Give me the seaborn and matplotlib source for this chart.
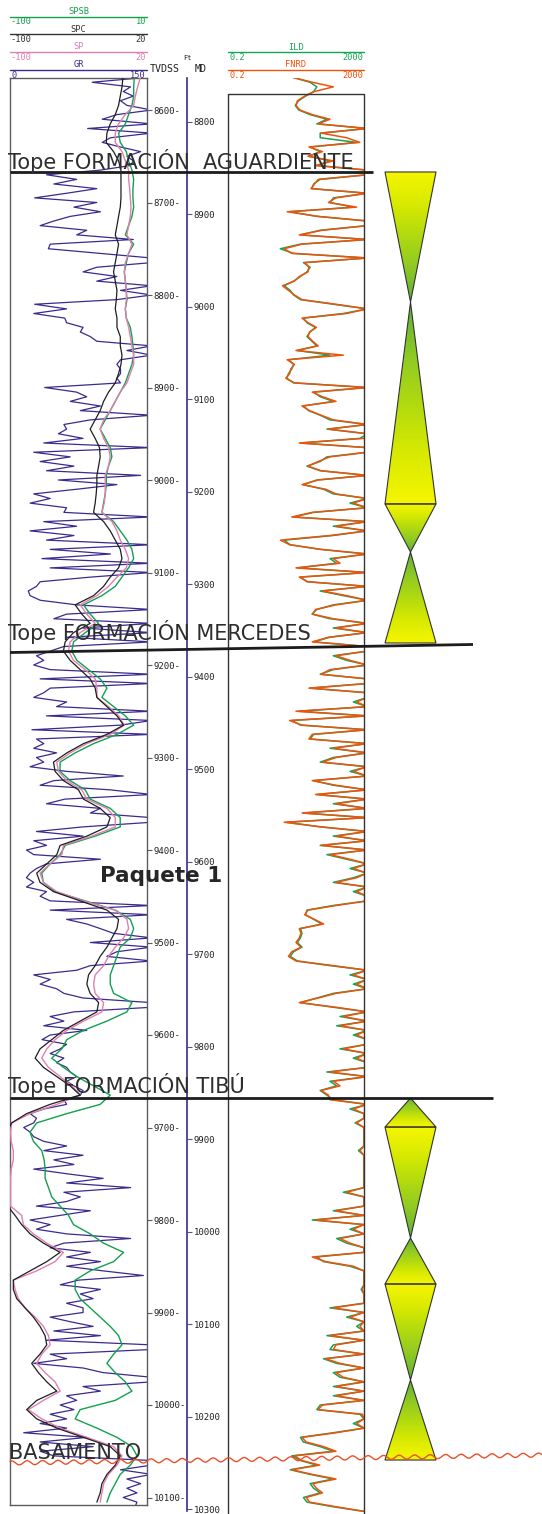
import numpy as np
import matplotlib
matplotlib.use("Agg")
import matplotlib.pyplot as plt
import seaborn as sns
from matplotlib.colors import LinearSegmentedColormap
from matplotlib.patches import Polygon
from matplotlib.transforms import blended_transform_factory

# ---------------------------------------------------------------- log data
LOG_TOP = 8565      # first sample, ft TVDSS
GR_STEP = 5
SP_STEP = 10
RES_STEP = 5

# Gamma ray, API (values above 150 run off the track)
GR = [
    146, 90, 132, 124, 135, 121, 128, 155, 117, 101, 155, 85, 155, 110, 101, 121, 143, 128, 135, 132,
    99, 40, 73, 48, 95, 62, 27, 95, 70, 99, 66, 48, 33, 84, 73, 135, 44, 42, 99, 155,
    155, 95, 80, 117, 95, 155, 121, 155, 117, 27, 62, 26, 60, 62, 80, 77, 88, 95, 155, 128,
    155, 121, 117, 121, 121, 117, 121, 38, 73, 84, 66, 99, 77, 155, 88, 59, 62, 53, 80, 37,
    155, 26, 66, 33, 70, 40, 143, 53, 117, 73, 26, 44, 22, 62, 59, 155, 37, 73, 22, 70,
    40, 155, 44, 110, 35, 155, 44, 155, 88, 33, 29, 20, 22, 33, 73, 155, 62, 48, 155, 80,
    155, 62, 155, 59, 44, 29, 37, 26, 44, 155, 33, 155, 44, 37, 26, 62, 51, 155, 40, 155,
    121, 24, 155, 29, 37, 26, 51, 29, 37, 22, 62, 124, 48, 33, 110, 155, 60, 40, 99, 88,
    155, 155, 80, 29, 80, 26, 40, 18, 26, 99, 40, 29, 22, 18, 26, 18, 40, 33, 44, 155,
    44, 155, 62, 84, 99, 113, 155, 88, 155, 117, 106, 155, 88, 73, 26, 44, 33, 51, 59, 80,
    155, 155, 70, 44, 59, 37, 84, 44, 35, 62, 55, 44, 59, 51, 62, 66, 73, 62, 70, 80,
    77, 59, 62, 37, 22, 29, 26, 15, 22, 26, 37, 62, 37, 80, 48, 70, 26, 62, 102, 62,
    132, 59, 77, 62, 29, 88, 55, 22, 44, 29, 62, 132, 59, 44, 88, 62, 99, 62, 102, 146,
    75, 55, 99, 77, 91, 62, 80, 80, 44, 66, 91, 48, 99, 40, 155, 155, 44, 62, 26, 80,
    102, 155, 155, 80, 99, 62, 73, 55, 70, 44, 62, 33, 62, 15, 84, 33, 91, 33, 48, 155,
    155, 121, 155, 128, 143, 128, 139, 124, 139, 137,
]

# Corrected SP, mV
SPC = [
    -1.1, -1.9, -3.4, -4.9, -7.8, -12.2, -15.1, -15.7, -9.3, -4.9, -2.8, -2.8, -2.8, -2.8,
    -3.4, -4.9, -6.3, -7.8, -4.9, -6.3, -7.8, -9.3, -7.8, -6.3, -6.9, -7.8, -6.3,
    -6.3, -3.4, -3.4, -1.9, -2.8, -4.9, -7.8, -13.7, -18.0, -21.0, -25.4, -29.8, -25.4,
    -21.6, -21.0, -22.4, -23.9, -23.9, -24.5, -25.4, -26.8, -18.0, -12.2, -7.8, -3.4, -1.9,
    -4.9, -12.2, -18.0, -26.8, -42.9, -37.1, -29.8, -44.4, -51.7, -53.2, -47.3, -38.5, -29.8,
    -25.4, -23.9, -15.1, -6.3, -0.5, -15.1, -35.6, -50.2, -61.9, -60.5, -53.2, -40.0, -35.6,
    -21.0, -12.2, -15.1, -32.7, -56.1, -59.0, -67.8, -76.6, -73.7, -61.9, -38.5, -15.1, -4.9,
    -6.3, -10.7, -15.1, -21.0, -25.4, -31.2, -32.7, -29.8, -22.4, -23.9, -38.5, -53.2, -63.4,
    -73.7, -78.0, -70.7, -59.0, -47.3, -38.5, -64.9, -85.4, -98.5, -103, -104, -104, -105,
    -104, -104, -104, -103, -102, -95.6, -89.8, -82.4, -70.7, -56.1, -67.8, -82.4, -97.1,
    -97.1, -94.1, -86.8, -79.5, -73.7, -69.3, -67.8, -73.7, -81.0, -75.1, -67.8, -59.0,
    -76.6, -85.4, -76.6, -59.0, -35.6, -12.2, -3.4, -7.8, -15.1, -19.5, -21.0, -23.9,
]

# Spontaneous potential, mV
SP = [
    14.2, 11.8, 9.8, 8.3, 1.0, -4.9, -7.8, -7.8, -1.9, 1.0, 3.9, 3.9, 4.8, 5.4, 6.0, 5.4,
    3.9, 2.4, 6.8, 3.9, 1.0, 0.1, 1.0, 1.9, 1.9, 1.0, 1.9,
    3.9, 5.4, 6.8, 8.3, 8.3, 5.4, 2.4, -3.4, -7.8, -12.2, -18.0, -21.0, -18.0, -13.7, -12.2,
    -13.7, -16.6, -16.6, -16.6, -17.5, -19.5, -10.7, -6.3, -3.4, 1.0, 3.9,
    1.9, -6.3, -13.7, -23.9, -38.5, -32.7, -25.4, -38.5, -47.3, -48.8, -44.4, -34.1, -25.4,
    -23.9, -23.9, -13.7, -4.9, 0.1, -12.2, -32.7, -47.3, -59.0, -57.6, -50.2, -37.1, -32.7,
    -15.1, -7.8, -7.8, -28.3, -53.2, -54.6, -64.9, -73.7, -70.7, -59.0, -35.6, -7.8, 2.4,
    3.9, -0.5, -7.8, -13.7, -18.0, -25.4, -26.8, -25.4, -18.0, -19.5, -35.6, -50.2, -60.5,
    -67.8, -72.2, -66.3, -56.1, -45.8, -38.5, -59.0, -82.4, -98.5, -99.5, -99.0, -97.1, -97.1,
    -99.0, -99.5, -99.5, -99.5, -99.5, -89.8, -88.3, -79.5, -67.8, -53.2, -60.5, -76.6, -97.1,
    -95.6, -92.7, -86.8, -78.0, -70.7, -66.3, -64.9, -72.2, -76.6, -69.3, -60.5, -56.1,
    -70.7, -83.9, -72.2, -56.1, -32.7, -9.3, -1.9, -6.3, -13.7, -18.0, -19.5, -21.0,
]

# Shale-baseline SP, mV
SPSB = [
    -0.2, -0.7, -0.7, -2.1, -4.8, -7.4, -12.8, -11.5, -6.6, -4.8, -2.1, -0.7, -1.3, -1.3,
    -0.7, -2.1, -4.8, -7.4, -0.7, -4.8, -6.6, -8.2, -7.4, -6.6, -6.1, -7.4, -6.6,
    -3.4, -2.1, -1.3, -0.7, -2.1, -4.8, -7.4, -11.5, -15.5, -19.5, -23.5, -27.6, -23.5, -19.5,
    -18.2, -20.9, -22.7, -22.7, -23.5, -24.9, -26.2, -16.8, -11.5, -6.1, -2.1, -0.7,
    -4.8, -10.1, -15.5, -26.2, -41.0, -35.6, -28.9, -39.6, -49.0, -50.4, -46.3, -37.0, -27.6,
    -22.2, -26.2, -16.8, -7.4, -0.7, -14.1, -32.9, -47.7, -59.8, -59.8, -51.7, -39.6, -35.6,
    -19.5, -11.5, -11.5, -31.6, -55.7, -59.8, -67.8, -74.5, -73.2, -63.8, -39.6, -15.5, -3.4,
    -0.7, -3.4, -11.5, -14.1, -16.8, -19.5, -19.5, -16.8, -2.1, -6.1, -22.2, -41.0, -54.4,
    -58.4, -66.5, -57.1, -46.3, -32.9, -19.5, -27.6, -54.4, -78.5, -83.9, -81.2, -74.5, -72.6,
    -71.8, -71.8, -69.1, -66.5, -59.8, -53.0, -49.0, -35.6, -24.9, -8.8, -16.8, -35.6, -47.7,
    -47.7, -43.7, -35.6, -27.6, -19.5, -12.8, -10.1, -16.8, -22.2, -15.5, -7.4, -2.1,
    -15.5, -43.7, -47.7, -30.2, -14.1, -2.1, 2.0, -3.4, -11.5, -15.5, -19.5, -22.2,
]

# Deep induction resistivity, ohm.m
ILD = [
    17, 52, 82, 66, 38, 24, 19, 24, 52, 162, 82, 2500, 103, 103, 1215, 52, 103, 47, 200, 82,
    2500, 2500, 103, 66, 59, 2500, 250, 200, 970, 13.5, 82, 2500, 2500, 103, 27, 2500, 27, 6.9, 17, 2500,
    33, 52, 42, 27, 17, 9, 13.5, 17, 27, 250, 2500, 493, 33, 42, 74, 52, 42, 59, 82, 22,
    200, 12, 17, 15, 12, 10.7, 17, 2500, 66, 103, 250, 33, 47, 103, 200, 2500, 162, 2500, 1520, 27,
    2500, 2500, 162, 103, 42, 103, 2500, 82, 33, 129, 250, 2500, 774, 2500, 66, 17, 2500, 250, 2500, 250,
    9, 13.5, 103, 2500, 200, 314, 22, 2500, 27, 42, 2500, 103, 493, 2500, 250, 82, 59, 200, 2500, 250,
    2500, 200, 66, 2500, 2500, 250, 618, 2500, 250, 103, 2500, 2500, 52, 2500, 2500, 970, 2500, 24, 2500, 15,
    27, 2500, 66, 52, 2500, 200, 2500, 250, 103, 2500, 774, 2500, 66, 250, 2500, 82, 2500, 250, 2500, 33,
    2500, 10.7, 103, 2500, 250, 2500, 103, 2500, 162, 618, 2500, 774, 2500, 970, 250, 2500, 970, 2500, 2500, 250,
    42, 38, 66, 115, 27, 30, 27, 22, 30, 17, 13.5, 22, 200, 2500, 774, 2500, 970, 2500, 250, 82,
    27, 250, 2500, 394, 2500, 314, 2500, 970, 2500, 2500, 394, 2500, 970, 2500, 2500, 162, 2500, 200, 314, 103,
    162, 250, 2500, 774, 2000, 2000, 1100, 2000, 2000, 2000, 2000, 2000, 1370, 2000, 2000, 2000, 2000, 2000, 2000, 2000,
    2000, 493, 2000, 2000, 2000, 250, 2000, 60, 2000, 774, 2000, 314, 618, 2000, 2000, 82, 129, 774, 2000, 2000,
    2000, 2000, 1650, 2000, 2000, 2000, 200, 2000, 618, 2000, 1215, 2000, 162, 2000, 250, 200, 2000, 129, 314, 2000,
    250, 394, 2000, 250, 2000, 250, 2000, 103, 82, 1520, 2000, 970, 2000, 250, 27, 33, 103, 250, 15, 27,
    82, 13.5, 52, 250, 52, 66, 103, 33, 42, 250, 2000,
]

# Resistivity, FNRD curve, ohm.m
FNRD = [
    17, 60, 250, 70, 36, 22, 20, 26, 60, 200, 90, 2500, 110, 618, 1500, 48, 120, 45, 250, 75,
    2500, 2500, 90, 70, 55, 2500, 300, 180, 1215, 11, 90, 2500, 2500, 120, 25, 2500, 30, 9, 15, 2500,
    36, 48, 45, 25, 18, 8, 12, 18, 30, 300, 2500, 618, 30, 45, 80, 50, 45, 62, 90, 20,
    493, 11, 18, 14, 13, 10, 18, 2500, 60, 120, 300, 30, 50, 110, 250, 2500, 180, 2500, 2000, 25,
    2500, 2500, 200, 90, 45, 110, 2500, 90, 30, 150, 300, 2500, 970, 2500, 60, 15, 2500, 300, 2500, 200,
    7, 13, 110, 2500, 250, 394, 20, 2500, 25, 45, 2500, 120, 618, 2500, 300, 75, 62, 250, 2500, 300,
    2500, 180, 60, 2500, 2500, 300, 774, 2500, 200, 110, 2500, 2500, 48, 2500, 2500, 1215, 2500, 20, 2500, 13,
    30, 2500, 60, 48, 2500, 250, 2500, 300, 120, 2500, 970, 2500, 60, 300, 2500, 75, 2500, 300, 2500, 30,
    2500, 9, 110, 2500, 300, 2500, 110, 2500, 200, 774, 2500, 970, 2500, 1215, 300, 2500, 1215, 2500, 2500, 300,
    45, 36, 70, 130, 25, 28, 25, 20, 28, 15, 12, 20, 250, 2500, 970, 2500, 1215, 2500, 300, 90,
    25, 300, 2500, 493, 2500, 394, 2500, 1215, 2500, 2500, 493, 2500, 1215, 2500, 2500, 200, 2500, 250, 394, 110,
    180, 200, 2500, 970, 2000, 2000, 1215, 2000, 2000, 2000, 2000, 2000, 1520, 2000, 2000, 2000, 2000, 2000, 2000, 2000,
    2000, 618, 2000, 2000, 2000, 300, 2000, 75, 2000, 970, 2000, 394, 774, 2000, 2000, 60, 150, 970, 2000, 2000,
    2000, 2000, 1800, 2000, 2000, 2000, 250, 2000, 774, 2000, 1520, 2000, 200, 2000, 300, 250, 2000, 150, 394, 2000,
    300, 493, 2000, 300, 2000, 300, 2000, 120, 90, 1800, 2000, 1215, 2000, 300, 30, 40, 130, 300, 18, 30,
    100, 15, 60, 300, 62, 80, 120, 40, 50, 300, 2000,
]

TVD_TICKS = list(range(8600, 10101, 100))
MD_TICKS = list(range(8800, 10301, 100))
MD_SHIFT = 187.4          # MD minus TVDSS, ft

# Formation tops (ft TVDSS at the left and right end of each marker line)
TOP_NAMES = ["Tope FORMACIÓN  AGUARDIENTE", "Tope FORMACIÓN MERCEDES", "Tope FORMACIÓN TIBÚ"]
TOP_DEPTH_L = [8667.0, 9186.5, 9668.1]
TOP_DEPTH_R = [8667.0, 9177.8, 9668.1]
TOP_LABEL_DEPTH = [8664.3, 9173.0, 9663.0]
BASEMENT_NAME = "BASAMENTO"
BASEMENT_DEPTH_L, BASEMENT_DEPTH_R = 10062.7, 10054.1
BASEMENT_LABEL_DEPTH = 10058.4
PACKAGE_NAME = "Paquete 1"
PACKAGE_DEPTH = 9434.6

# Stratigraphic cycles: top, base, and which end is wide
CYCLE_TOP = [8667.0, 8807.6, 9025.9, 9077.8, 9668.1, 9699.5, 9819.5, 9869.2, 9973.0]
CYCLE_BASE = [8807.6, 9025.9, 9077.8, 9176.2, 9699.5, 9819.5, 9869.2, 9973.0, 10059.5]
CYCLE_WIDE = ["top", "bottom", "top", "bottom", "bottom", "top", "bottom", "top", "bottom"]

# ---------------------------------------------------------------- layout
W, H, DPI = 542, 1514, 100
PX_PER_FT = 0.925
Y_REF, D_REF = 110, 8600          # pixel row of the 8600 ft tick


def depth_at(ypx):
    return D_REF + (ypx - Y_REF) / PX_PER_FT


C_GR = "#3c2a8e"
C_SP = "#e07fb2"
C_SPC = "#1e1e1e"
C_SPSB = "#12a04e"
C_ILD = "#16a455"
C_FNRD = "#f0520c"
C_FRAME = "#5c5c5c"
C_TEXT = "#2e2e2e"
MONO = "DejaVu Sans Mono"

sns.set_style("white")
plt.rcParams["font.family"] = ["DejaVu Sans"]

fig = plt.figure(figsize=(W / DPI, H / DPI), dpi=DPI)


def px_axes(x0, y0, x1, y1):
    ax = fig.add_axes([x0 / W, 1 - y1 / H, (x1 - x0) / W, (y1 - y0) / H])
    ax.patch.set_alpha(0)
    return ax


def line_curve(ax, values, step, color, lw):
    depth = LOG_TOP + step * np.arange(len(values))
    sns.lineplot(x=np.asarray(values, float), y=depth, orient="y", sort=False,
                 estimator=None, ax=ax, color=color, linewidth=lw)
    ax.set_xlabel("")
    ax.set_ylabel("")


# ---- track 1: GR + SP family
T1_X0, T1_X1, T1_Y0, T1_Y1 = 10, 147, 78, 1505
ax_gr = px_axes(T1_X0, T1_Y0, T1_X1, T1_Y1)
ax_sb = px_axes(T1_X0, T1_Y0, T1_X1, T1_Y1)
ax_sp = px_axes(T1_X0, T1_Y0, T1_X1, T1_Y1)
ax_spc = px_axes(T1_X0, T1_Y0, T1_X1, T1_Y1)

line_curve(ax_gr, GR, GR_STEP, C_GR, 0.9)
line_curve(ax_sb, SPSB, SP_STEP, C_SPSB, 1.0)
line_curve(ax_sp, SP, SP_STEP, C_SP, 1.0)
line_curve(ax_spc, SPC, SP_STEP, C_SPC, 0.9)

ylim1 = (depth_at(T1_Y1), depth_at(T1_Y0))
for ax, xl in [(ax_gr, (0, 150)), (ax_sb, (-100, 10)), (ax_sp, (-100, 20)), (ax_spc, (-100, 20))]:
    ax.set_xlim(*xl)
    ax.set_ylim(*ylim1)
for ax in (ax_sb, ax_sp, ax_spc):
    ax.axis("off")

ax_gr.set_xticks([])
for s in ax_gr.spines.values():
    s.set_color(C_FRAME)
    s.set_linewidth(1.0)
ax_gr.yaxis.tick_right()
ax_gr.set_yticks(TVD_TICKS)
ax_gr.set_yticklabels([f"{t}-" for t in TVD_TICKS])
ax_gr.tick_params(axis="y", direction="out", length=3.5, width=0.8, color=C_FRAME,
                  pad=1.2, labelsize=6.5, labelcolor="#222222")
for lbl in ax_gr.get_yticklabels():
    lbl.set_fontfamily(MONO)

# ---- MD axis
MD_X = 187
ax_md = px_axes(150, 78, MD_X, 1511)
ax_md.set_ylim(depth_at(1511) + MD_SHIFT, depth_at(78) + MD_SHIFT)
ax_md.set_xticks([])
for side, s in ax_md.spines.items():
    s.set_visible(side == "right")
ax_md.spines["right"].set_color(C_GR)
ax_md.spines["right"].set_linewidth(1.2)
ax_md.yaxis.tick_right()
ax_md.set_yticks(MD_TICKS)
ax_md.set_yticklabels([str(t) for t in MD_TICKS])
ax_md.tick_params(axis="y", direction="out", length=3.5, width=0.8, color=C_FRAME,
                  pad=1.2, labelsize=6.5, labelcolor="#222222")
for lbl in ax_md.get_yticklabels():
    lbl.set_fontfamily(MONO)

# ---- track 2: resistivity
T2_X0, T2_X1, T2_TOP = 228, 364, 94
ax_res = px_axes(T2_X0, 78, T2_X1, H)
ax_res.set_xscale("log")
line_curve(ax_res, ILD, RES_STEP, C_ILD, 1.1)
line_curve(ax_res, FNRD, RES_STEP, C_FNRD, 1.1)
ax_res.set_xscale("log")
ax_res.set_xlim(0.2, 2000)
ax_res.set_ylim(depth_at(H), depth_at(78))
ax_res.axis("off")

# ---- cycle column
ax_cyc = px_axes(380.5, T1_Y0, 440.5, T1_Y1)
HW = 25.5
cyc_cmap = LinearSegmentedColormap.from_list(
    "cycle", ["#f6f600", "#d8ea00", "#b0da10", "#8cc825", "#5caf35"])
grad = np.linspace(0, 1, 256).reshape(-1, 1)
for top, base, wide in zip(CYCLE_TOP, CYCLE_BASE, CYCLE_WIDE):
    if wide == "top":
        verts = [(-HW, top), (HW, top), (0, base)]
        img = grad
    else:
        verts = [(0, top), (-HW, base), (HW, base)]
        img = grad[::-1]
    im = ax_cyc.imshow(img, cmap=cyc_cmap, vmin=0, vmax=1, extent=[-HW, HW, base, top],
                       origin="upper", aspect="auto", interpolation="bilinear", zorder=1)
    poly = Polygon(verts, closed=True, facecolor="none", edgecolor="#333333",
                   linewidth=0.8, zorder=2)
    ax_cyc.add_patch(poly)
    im.set_clip_path(poly)
ax_cyc.set_xlim(-30, 30)
ax_cyc.set_ylim(*ylim1)
ax_cyc.axis("off")

# ---- overlay: headers, frames, formation tops
ax_ov = px_axes(0, 0, W, H)
ax_ov.set_xlim(0, W)
ax_ov.set_ylim(H, 0)
ax_ov.axis("off")
ax_ov.set_zorder(10)
depth_tr = blended_transform_factory(ax_ov.transData, ax_gr.transData)

# track 2 frame
ax_ov.plot([T2_X0, T2_X0, T2_X1, T2_X1], [H, T2_TOP, T2_TOP, H], color="#333333", lw=1.0)

# curve headers: name, line, scale
HEADERS = [
    # x0, x1, name y, line y, scale y, name, left, right, colour
    (T1_X0, T1_X1, 11.5, 16.8, 22, "SPSB", "-100", "10", C_SPSB),
    (T1_X0, T1_X1, 29.5, 34.3, 39.5, "SPC", "-100", "20", "#333333"),
    (T1_X0, T1_X1, 46.8, 52.3, 57.3, "SP", "-100", "20", C_SP),
    (T1_X0, T1_X1, 64.5, 70.0, 75.2, "GR", "0", "150", C_GR),
    (T2_X0, T2_X1, 47.5, 52.3, 57.3, "ILD", "0.2", "2000", C_ILD),
    (T2_X0, T2_X1, 64.5, 70.0, 75.2, "FNRD", "0.2", "2000", C_FNRD),
]
for x0, x1, yn, yl, ys, name, lo, hi, col in HEADERS:
    ax_ov.text((x0 + x1) / 2, yn, name, ha="center", va="center", color=col,
               fontsize=6.2, family=MONO)
    ax_ov.plot([x0, x1], [yl, yl], color=col, lw=1.0)
    ax_ov.text(x0 + 1, ys, lo, ha="left", va="center", color=col, fontsize=6.2, family=MONO)
    ax_ov.text(x1 - 1, ys, hi, ha="right", va="center", color=col, fontsize=6.2, family=MONO)

ax_ov.text(187, 58, "Ft", ha="center", va="center", fontsize=5, family=MONO, color="#222222")
ax_ov.text(165, 68.5, "TVDSS", ha="center", va="center", fontsize=7.2, family=MONO, color="#222222")
ax_ov.text(201, 68.5, "MD", ha="center", va="center", fontsize=7.2, family=MONO, color="#222222")

# formation tops
TOP_X_END = [373, 473, 493]
for name, dl, dr, dlab, xe in zip(TOP_NAMES, TOP_DEPTH_L, TOP_DEPTH_R, TOP_LABEL_DEPTH, TOP_X_END):
    ax_ov.plot([T1_X0, xe], [dl, dr], transform=depth_tr, color="#1c1c1c", lw=2.0,
               solid_capstyle="butt")
    ax_ov.text(8, dlab, name, transform=depth_tr, ha="left", va="baseline",
               fontsize=15, color=C_TEXT)

# basement: wavy unconformity
xs = np.linspace(T1_X0, W, 700)
wave_depth = (BASEMENT_DEPTH_L + (BASEMENT_DEPTH_R - BASEMENT_DEPTH_L) * (xs - T1_X0) / (W - T1_X0)
              + 2.0 / PX_PER_FT * np.sin(2 * np.pi * xs / 15.5))
ax_ov.plot(xs, wave_depth, transform=depth_tr, color="#e8502a", lw=1.0)
ax_ov.text(9, BASEMENT_LABEL_DEPTH, BASEMENT_NAME, transform=depth_tr, ha="left",
           va="baseline", fontsize=15, color=C_TEXT)

ax_ov.text(100, PACKAGE_DEPTH, PACKAGE_NAME, transform=depth_tr, ha="left", va="baseline",
           fontsize=15.5, fontweight="bold", color="#262626")

fig.savefig("out.png", dpi=DPI, facecolor="white")
